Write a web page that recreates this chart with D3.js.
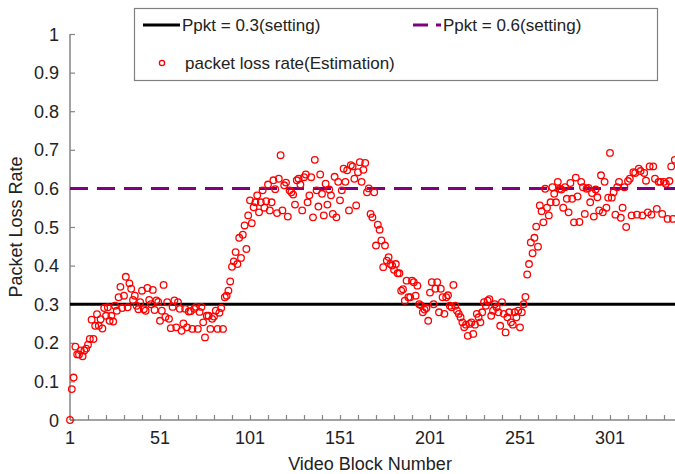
<!DOCTYPE html>
<html>
<head>
<meta charset="utf-8">
<script src="https://cdn.jsdelivr.net/npm/d3@7"></script>
<style>
  html, body { margin: 0; padding: 0; background: #fff; }
  svg { display: block; font-family: "Liberation Sans", Arial, sans-serif; }
</style>
</head>
<body>
<svg id="chart" width="675" height="474"></svg>
<script>
// Estimated packet loss rate per video block (blocks 1..337)
const lossRate = [
  0, 0.08, 0.11, 0.19, 0.17, 0.17, 0.18, 0.165, 0.18, 0.185,
  0.195, 0.21, 0.26, 0.21, 0.244, 0.274, 0.244, 0.261, 0.237, 0.29,
  0.27, 0.292, 0.257, 0.27, 0.255, 0.296, 0.283, 0.318, 0.345, 0.29,
  0.322, 0.371, 0.292, 0.354, 0.34, 0.311, 0.322, 0.296, 0.287, 0.305,
  0.335, 0.287, 0.283, 0.342, 0.311, 0.30, 0.337, 0.285, 0.31, 0.306,
  0.257, 0.283, 0.35, 0.267, 0.305, 0.262, 0.238, 0.293, 0.31, 0.24,
  0.305, 0.288, 0.231, 0.25, 0.288, 0.24, 0.281, 0.282, 0.236, 0.288,
  0.293, 0.236, 0.28, 0.293, 0.253, 0.214, 0.27, 0.27, 0.236, 0.262,
  0.268, 0.283, 0.236, 0.278, 0.29, 0.236, 0.318, 0.322, 0.335, 0.359,
  0.397, 0.411, 0.435, 0.404, 0.472, 0.42, 0.48, 0.504, 0.443, 0.53,
  0.569, 0.51, 0.551, 0.564, 0.582, 0.538, 0.564, 0.595, 0.55, 0.567,
  0.61, 0.543, 0.564, 0.621, 0.598, 0.536, 0.625, 0.686, 0.543, 0.608,
  0.615, 0.527, 0.595, 0.59, 0.584, 0.558, 0.621, 0.625, 0.61, 0.543,
  0.629, 0.636, 0.564, 0.582, 0.629, 0.525, 0.674, 0.595, 0.553, 0.636,
  0.586, 0.53, 0.612, 0.558, 0.597, 0.582, 0.534, 0.63, 0.525, 0.617,
  0.569, 0.595, 0.651, 0.617, 0.647, 0.543, 0.66, 0.657, 0.625, 0.556,
  0.642, 0.668, 0.617, 0.648, 0.666, 0.59, 0.60, 0.534, 0.525, 0.59,
  0.452, 0.506, 0.493, 0.465, 0.396, 0.452, 0.413, 0.422, 0.404, 0.40,
  0.389, 0.404, 0.38, 0.38, 0.335, 0.339, 0.309, 0.361, 0.318, 0.318,
  0.361, 0.357, 0.322, 0.348, 0.30, 0.297, 0.279, 0.286, 0.29, 0.257,
  0.33, 0.357, 0.30, 0.34, 0.357, 0.279, 0.34, 0.318, 0.275, 0.318,
  0.323, 0.296, 0.292, 0.35, 0.296, 0.283, 0.275, 0.266, 0.253, 0.24,
  0.247, 0.218, 0.249, 0.253, 0.223, 0.247, 0.275, 0.266, 0.253, 0.279,
  0.305, 0.296, 0.309, 0.313, 0.27, 0.283, 0.30, 0.292, 0.279, 0.244,
  0.305, 0.275, 0.227, 0.266, 0.279, 0.253, 0.247, 0.279, 0.266, 0.283,
  0.24, 0.279, 0.30, 0.319, 0.377, 0.404, 0.46, 0.432, 0.472, 0.501,
  0.449, 0.556, 0.541, 0.512, 0.599, 0.55, 0.53, 0.564, 0.603, 0.586,
  0.564, 0.617, 0.599, 0.597, 0.55, 0.603, 0.573, 0.538, 0.614, 0.573,
  0.512, 0.628, 0.579, 0.513, 0.617, 0.603, 0.534, 0.599, 0.601, 0.564,
  0.588, 0.527, 0.597, 0.577, 0.543, 0.634, 0.538, 0.617, 0.55, 0.576,
  0.692, 0.576, 0.59, 0.532, 0.603, 0.617, 0.524, 0.55, 0.603, 0.50,
  0.619, 0.625, 0.53, 0.642, 0.64, 0.532, 0.651, 0.645, 0.53, 0.64,
  0.62, 0.538, 0.657, 0.532, 0.657, 0.625, 0.547, 0.617, 0.617, 0.534,
  0.617, 0.612, 0.521, 0.619, 0.657, 0.521, 0.674
];
const blockNumbers = lossRate.map((_, i) => i + 1);

// Configured loss probabilities (horizontal reference lines)
const settingValues = [0.3, 0.6];
const settingLabels = ["Ppkt = 0.3(setting)", "Ppkt = 0.6(setting)"];
const estimationLabel = "packet loss rate(Estimation)";

// Axis ticks
const xLabelTicks = [1, 51, 101, 151, 201, 251, 301];
const xMinorTicks = d3.range(1, 341, 10);
const yTicks = [0, 0.1, 0.2, 0.3, 0.4, 0.5, 0.6, 0.7, 0.8, 0.9, 1];

const svg = d3.select("#chart");
const plotLeft = 70, plotBottom = 420, plotTop = 34, plotRight = 680;

const x = d3.scaleLinear().domain([1, 301]).range([plotLeft, 610]);
const y = d3.scaleLinear().domain([0, 1]).range([plotBottom, plotTop]);

const axisColor = "#858585";
const textColor = "#222";

// Y axis
const yAxis = svg.append("g")
  .attr("transform", `translate(${plotLeft},0)`)
  .call(d3.axisRight(y).tickValues(yTicks).tickSize(5).tickFormat(d3.format("")));
yAxis.select(".domain").attr("stroke", axisColor).attr("stroke-width", 1.5)
  .attr("d", `M0,${plotTop}V${plotBottom}`);
yAxis.selectAll(".tick line").attr("stroke", axisColor).attr("stroke-width", 1.2);
yAxis.selectAll(".tick text")
  .attr("x", -11).attr("dy", "0.34em").attr("text-anchor", "end")
  .attr("fill", textColor).style("font-size", "18px");

// X axis: minor ticks every 10 blocks, labels every 50
const xAxis = svg.append("g")
  .attr("transform", `translate(0,${plotBottom})`)
  .call(d3.axisTop(x).tickValues(xMinorTicks).tickSize(5).tickFormat(""));
xAxis.select(".domain").attr("stroke", axisColor).attr("stroke-width", 1.5)
  .attr("d", `M${plotLeft},0H${plotRight}`);
xAxis.selectAll(".tick line").attr("stroke", axisColor).attr("stroke-width", 1.2);

svg.append("g")
  .selectAll("text")
  .data(xLabelTicks)
  .join("text")
  .attr("x", d => x(d))
  .attr("y", plotBottom + 24)
  .attr("text-anchor", "middle")
  .attr("fill", textColor)
  .style("font-size", "18px")
  .text(d => d);

// Axis titles
svg.append("text")
  .attr("x", 370).attr("y", 470)
  .attr("text-anchor", "middle")
  .attr("fill", textColor)
  .style("font-size", "18px")
  .text("Video Block Number");

svg.append("text")
  .attr("transform", `translate(22,${(plotTop + plotBottom) / 2}) rotate(-90)`)
  .attr("text-anchor", "middle")
  .attr("fill", textColor)
  .style("font-size", "18px")
  .text("Packet Loss Rate");

// Reference lines
const refStyles = [
  { stroke: "#000000", dash: null },
  { stroke: "#800080", dash: "18,9" }
];
svg.append("g")
  .selectAll("line")
  .data(settingValues)
  .join("line")
  .attr("x1", plotLeft).attr("x2", plotRight)
  .attr("y1", d => y(d)).attr("y2", d => y(d))
  .attr("stroke", (d, i) => refStyles[i].stroke)
  .attr("stroke-width", 3)
  .attr("stroke-dasharray", (d, i) => refStyles[i].dash);

// Estimated loss rate markers
svg.append("g")
  .selectAll("circle")
  .data(lossRate)
  .join("circle")
  .attr("cx", (d, i) => x(blockNumbers[i]))
  .attr("cy", d => y(d))
  .attr("r", 3.3)
  .attr("fill", "none")
  .attr("stroke", "#ff0000")
  .attr("stroke-width", 1.3);

// Legend
const legend = svg.append("g");
legend.append("rect")
  .attr("x", 134.5).attr("y", 8.5).attr("width", 523).attr("height", 72)
  .attr("fill", "#fff").attr("stroke", "#808080").attr("stroke-width", 1.2);

legend.append("line")
  .attr("x1", 143).attr("x2", 180).attr("y1", 25).attr("y2", 25)
  .attr("stroke", refStyles[0].stroke).attr("stroke-width", 3);
legend.append("text")
  .attr("x", 182).attr("y", 25).attr("dy", "0.35em")
  .attr("fill", textColor).style("font-size", "17px")
  .text(settingLabels[0]);

legend.append("line")
  .attr("x1", 413).attr("x2", 441).attr("y1", 25).attr("y2", 25)
  .attr("stroke", refStyles[1].stroke).attr("stroke-width", 3)
  .attr("stroke-dasharray", "15,8");
legend.append("text")
  .attr("x", 443).attr("y", 25).attr("dy", "0.35em")
  .attr("fill", textColor).style("font-size", "17px")
  .text(settingLabels[1]);

legend.append("circle")
  .attr("cx", 162).attr("cy", 63).attr("r", 2.6)
  .attr("fill", "none").attr("stroke", "#ff0000").attr("stroke-width", 1.3);
legend.append("text")
  .attr("x", 185).attr("y", 63).attr("dy", "0.35em")
  .attr("fill", textColor).style("font-size", "17px")
  .text(estimationLabel);
</script>
</body>
</html>
